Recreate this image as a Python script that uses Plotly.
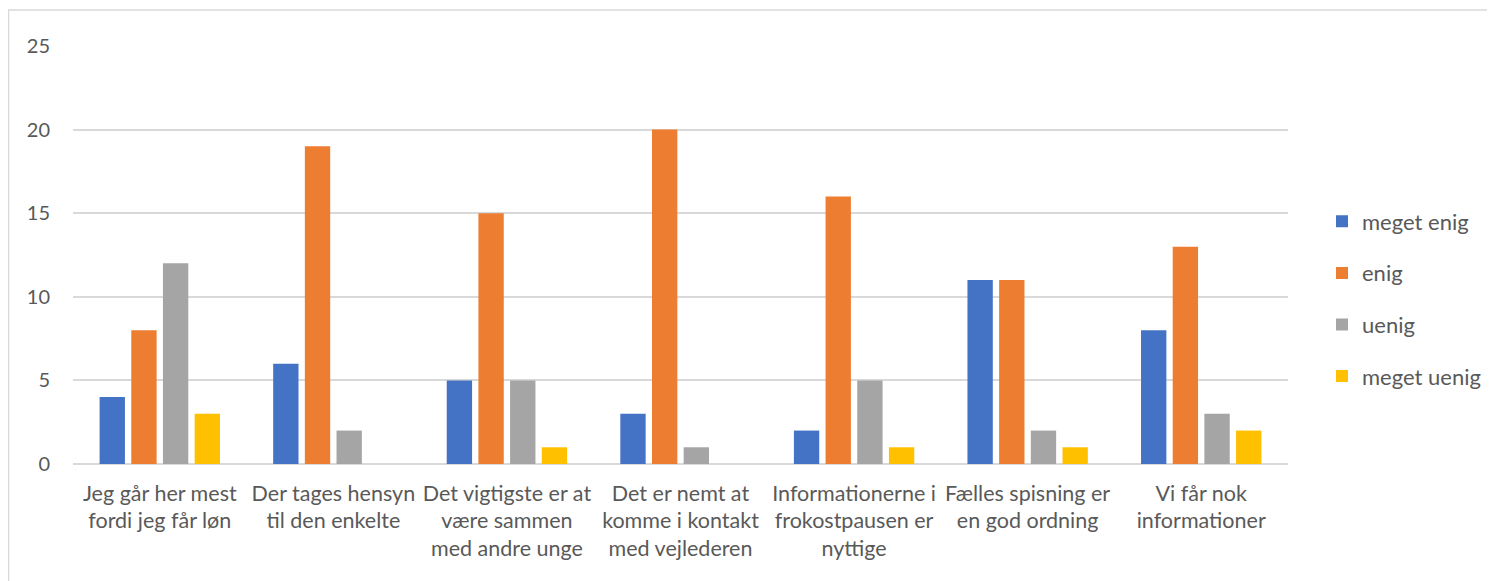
import plotly.graph_objects as go

categories = [
    "Jeg går her mest fordi jeg får løn",
    "Der tages hensyn til den enkelte",
    "Det vigtigste er at være sammen med andre unge",
    "Det er nemt at komme i kontakt med vejlederen",
    "Informationerne i frokostpausen er nyttige",
    "Fælles spisning er en god ordning",
    "Vi får nok informationer",
]
tick_labels = [
    "Jeg går her mest<br>fordi jeg får løn",
    "Der tages hensyn<br>til den enkelte",
    "Det vigtigste er at<br>være sammen<br>med andre unge",
    "Det er nemt at<br>komme i kontakt<br>med vejlederen",
    "Informationerne i<br>frokostpausen er<br>nyttige",
    "Fælles spisning er<br>en god ordning",
    "Vi får nok<br>informationer",
]
series_names = ["meget enig", "enig", "uenig", "meget uenig"]
meget_enig = [4, 6, 5, 3, 2, 11, 8]
enig = [8, 19, 15, 20, 16, 11, 13]
uenig = [12, 2, 5, 1, 5, 2, 3]
meget_uenig = [3, None, 1, None, 1, 1, 2]
colors = ["#4472C4", "#ED7D31", "#A5A5A5", "#FFC000"]

fig = go.Figure()
for i, (name, vals) in enumerate(zip(series_names, [meget_enig, enig, uenig, meget_uenig])):
    fig.add_trace(go.Bar(
        x=categories, y=vals, name=name, marker_color=colors[i],
        marker_line_width=0, legendgroup=name,
    ))

font_family = "Lato, 'Open Sans', sans-serif"
W, H = 1487, 573
L, R, T, B = 65, 207, 38, 117
pw, ph = W - L - R, H - T - B
fig.update_layout(
    width=W, height=H,
    barmode="group", bargap=0.27, bargroupgap=0.2,
    plot_bgcolor="white", paper_bgcolor="white",
    margin=dict(l=L, r=R, t=T, b=B, autoexpand=False),
    font=dict(family=font_family, size=20, color="#595959"),
    legend=dict(x=(1337 - 8 - L - 15) / pw, y=(456 - 291) / ph, xanchor="left", yanchor="middle",
                tracegroupgap=20, font=dict(size=22, color="#595959"),
                itemwidth=30),
    showlegend=True,
    shapes=[dict(type="rect", xref="paper", yref="paper",
                 x0=-(L - 0) / pw + 0.5 / pw, x1=1.3, y0=-0.5, y1=1 + (T - 2) / ph,
                 line=dict(color="#d9d9d9", width=1.5), layer="below")],
)
fig.update_xaxes(
    tickvals=categories, ticktext=tick_labels, showgrid=False,
    showline=False, ticks="", tickfont=dict(size=21.5, color="#595959"),
    ticklabelstandoff=14,
)
fig.update_yaxes(
    range=[0, 25], tickvals=[0, 5, 10, 15, 20, 25], showgrid=True,
    gridcolor="#d9d9d9", gridwidth=1.5, zeroline=True, zerolinecolor="#d9d9d9",
    zerolinewidth=1.5, showline=False, ticks="",
    tickfont=dict(size=20, color="#595959"), ticklabelstandoff=22,
)
fig.write_html("out.html")
